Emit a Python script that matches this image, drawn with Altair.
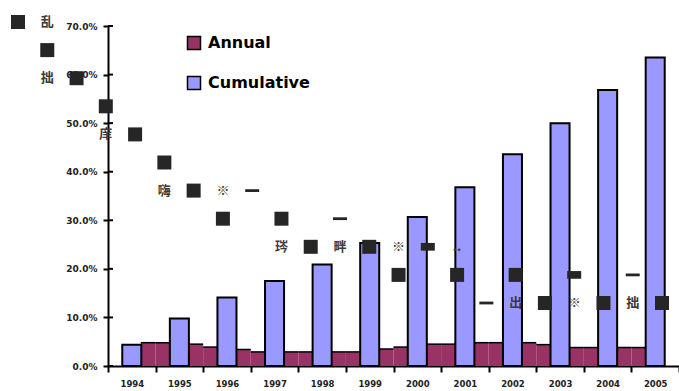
import altair as alt
import pandas as pd

# Years on the category axis
years = [str(y) for y in range(1994, 2006)]

# Cumulative share (%) per year
cumulative = [4.4, 9.8, 14.1, 17.5, 20.9, 25.3, 30.7, 36.8, 43.6, 50.0, 56.8, 63.5]

# Annual share (%) shown either side of each cumulative column
annual_left = [None, 4.8, 3.9, 2.9, 2.9, 2.9, 3.9, 4.5, 4.8, 4.4, 3.8, 3.8]
annual_right = [4.8, 4.5, 3.4, 2.9, 2.9, 3.5, 4.5, 4.8, 4.8, 3.8, 3.8, None]

# Y axis tick values
y_ticks = [0.0, 0.1, 0.2, 0.3, 0.4, 0.5, 0.6, 0.7]

# Marker overlay laid out on a grid of (column, row) cells
sq_cols = [0, 1, 2, 3, 4, 5, 6, 7, 9, 10, 12, 13, 15, 17, 18, 20, 22]
sq_rows = [0, 1, 2, 3, 4, 5, 6, 7, 7, 8, 8, 9, 9, 9, 10, 10, 10]
half_cols = [14, 19]
half_rows = [8, 9]
dash_cols = [8, 11, 16, 21]
dash_rows = [6, 7, 10, 9]
glyph_cols = [1, 1, 3, 5, 7, 9, 11, 13, 15, 17, 19, 21]
glyph_rows = [0, 2, 4, 6, 6, 8, 8, 8, 8, 10, 10, 10]
glyph_text = ["乱", "拙", "庠", "嗨", "※", "琌", "畔", "※", "..", "出", "※", "拙"]

MAROON = "#993366"
PERIWINKLE = "#9999FF"
W, H = 571, 340
BW = W / len(years)

cum_df = pd.DataFrame({"year": years, "value": [v / 100 for v in cumulative],
                       "series": "Cumulative"})
left_df = pd.DataFrame({"year": years, "value": annual_left, "series": "Annual"}).dropna()
left_df["value"] = left_df["value"] / 100
right_df = pd.DataFrame({"year": years, "value": annual_right, "series": "Annual"}).dropna()
right_df["value"] = right_df["value"] / 100
tick_df = pd.DataFrame({"value": y_ticks})

x_scale = alt.Scale(type="band", domain=years, paddingInner=0, paddingOuter=0)
y_scale = alt.Scale(domain=[0, 0.7], nice=False, zero=True)

x_axis = alt.Axis(title=None, labelAngle=0, tickBand="extent", tickSize=6, tickWidth=2,
                  tickColor="black", domainColor="black", domainWidth=2, grid=False,
                  labelFont="DejaVu Sans", labelFontWeight="bold", labelFontSize=8.5,
                  labelColor="#222222", labelPadding=7)
y_axis = alt.Axis(title=None, format=".1%", values=y_ticks, tickSize=5, tickWidth=2,
                  tickColor="black", domainColor="black", domainWidth=2, grid=False,
                  labelFont="DejaVu Sans", labelFontWeight="bold", labelFontSize=9,
                  labelColor="#222222", labelPadding=6)

color = alt.Color(
    "series:N",
    scale=alt.Scale(domain=["Annual", "Cumulative"], range=[MAROON, PERIWINKLE]),
    legend=alt.Legend(title=None, orient="none", legendX=78, legendY=9,
                      symbolType="square", symbolSize=169, symbolStrokeColor="black",
                      symbolStrokeWidth=1.5, symbolOpacity=1,
                      labelFont="DejaVu Sans", labelFontSize=16, labelFontWeight="bold",
                      labelColor="black", labelOffset=6, rowPadding=20, padding=0),
)

part_w = 0.31
shift = 0.345 * BW

annual_l = alt.Chart(left_df).mark_bar(width=alt.RelativeBandSize(part_w), xOffset=-shift,
                                       opacity=1).encode(
    x=alt.X("year:O", scale=x_scale, axis=x_axis),
    y=alt.Y("value:Q", scale=y_scale, axis=y_axis),
    color=color,
)
annual_r = alt.Chart(right_df).mark_bar(width=alt.RelativeBandSize(part_w), xOffset=shift,
                                        opacity=1).encode(
    x=alt.X("year:O", scale=x_scale),
    y=alt.Y("value:Q", scale=y_scale),
    color=color,
)
edge_l = alt.Chart(left_df).mark_tick(size=part_w * BW, thickness=1.5, color="black",
                                      xOffset=-shift, opacity=1).encode(
    x=alt.X("year:O", scale=x_scale),
    y=alt.Y("value:Q", scale=y_scale),
)
edge_r = alt.Chart(right_df).mark_tick(size=part_w * BW, thickness=1.5, color="black",
                                       xOffset=shift, opacity=1).encode(
    x=alt.X("year:O", scale=x_scale),
    y=alt.Y("value:Q", scale=y_scale),
)
cum = alt.Chart(cum_df).mark_bar(width=alt.RelativeBandSize(0.4), stroke="black",
                                 strokeWidth=2, opacity=1).encode(
    x=alt.X("year:O", scale=x_scale),
    y=alt.Y("value:Q", scale=y_scale),
    color=color,
)
inner_ticks = alt.Chart(tick_df).mark_rule(color="black", strokeWidth=2).encode(
    y=alt.Y("value:Q", scale=y_scale),
    x=alt.value(0),
    x2=alt.value(5),
)

bars = alt.layer(annual_l, annual_r, edge_l, edge_r, cum, inner_ticks)

# Marker overlay on its own grid scales
gx = alt.Scale(domain=[0, 22], range=[-90, 554], nice=False, zero=False)
gy = alt.Scale(domain=[0, 10], range=[-4, 277], nice=False, zero=False)

sq_df = pd.DataFrame({"col": sq_cols, "row": sq_rows})
half_df = pd.DataFrame({"col": half_cols, "row": half_rows})
dash_df = pd.DataFrame({"col": dash_cols, "row": dash_rows})
glyph_df = pd.DataFrame({"col": glyph_cols, "row": glyph_rows, "txt": glyph_text})

enc = dict(x=alt.X("col:Q", scale=gx, axis=None), y=alt.Y("row:Q", scale=gy, axis=None))

squares = alt.Chart(sq_df).mark_point(shape="square", filled=True, size=196,
                                      color="#262626", opacity=1).encode(**enc)
halves = alt.Chart(half_df).mark_point(shape="M-1,-0.55H1V0.55H-1Z", filled=True, size=196,
                                       color="#262626", opacity=1).encode(**enc)
dashes = alt.Chart(dash_df).mark_point(shape="M-1,-0.2H1V0.2H-1Z", filled=True, size=196,
                                       color="#262626", opacity=1).encode(**enc)
glyphs = alt.Chart(glyph_df).mark_text(font="Noto Sans CJK SC", fontSize=13,
                                       fontWeight="bold", color="#3a3a3a").encode(
    text="txt:N", **enc)

markers = alt.layer(squares, halves, dashes, glyphs)

chart = alt.layer(bars, markers).resolve_scale(
    x="independent", y="independent"
).properties(
    width=W, height=H,
    background="white",
    padding={"left": 108, "top": 26, "right": 0, "bottom": 25},
    autosize=alt.AutoSizeParams(type="none"),
).configure_view(stroke=None).configure_axis(grid=False)

chart.save("out.html", embed_options={"renderer": "svg", "actions": False})
